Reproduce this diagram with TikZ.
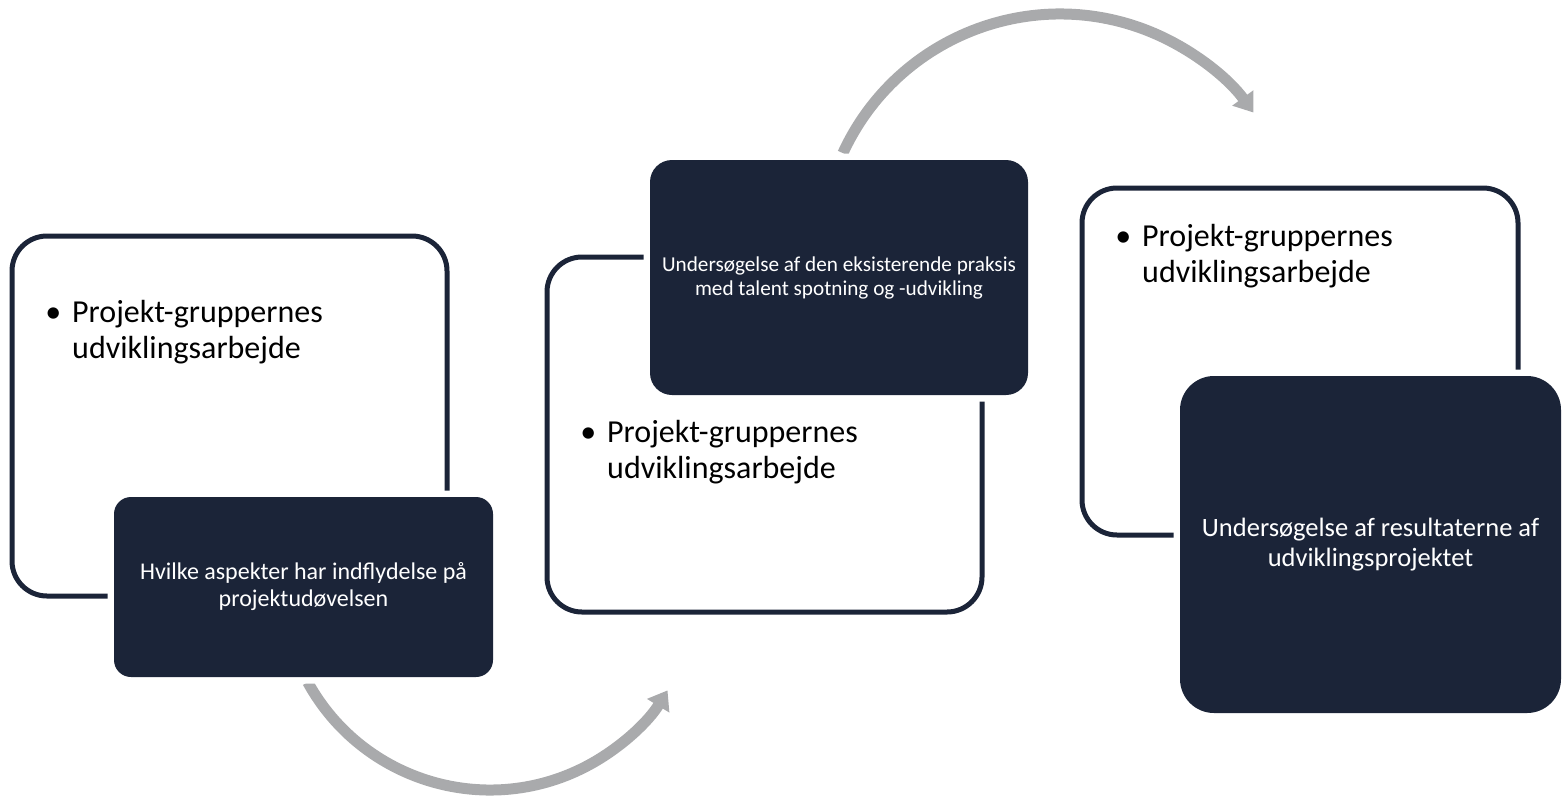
\documentclass[tikz,border=0pt]{standalone}
\usepackage{fontspec}
\setmainfont{Carlito}
\usepackage{tikz}
\usetikzlibrary{arrows.meta}
\definecolor{navy}{RGB}{27,36,56}
\definecolor{loopgray}{RGB}{169,170,172}
\tikzstyle{frame}=[draw=navy,line width=5pt,rounded corners=35pt,inner sep=0pt]
\tikzstyle{darkbox}=[fill=navy,text=white,align=center,inner sep=0pt,preaction={draw=white,line width=13pt}]
\tikzstyle{item}=[anchor=base west,align=left,inner sep=0pt,font=\fontsize{32}{36}\selectfont]
\tikzstyle{loop}=[draw=loopgray,line width=11pt,-{Triangle[length=18pt,width=25pt]}]
\newcommand{\itembullet}{\llap{\textbullet\hspace{11pt}}}

\begin{document}
\begin{tikzpicture}[x=1pt,y=-1pt]
    \useasboundingbox (0,0) rectangle (1562,798);
    \node[frame,minimum width=435pt,minimum height=360pt] (Frame1) at (229.5,416) {};
    \node[frame,minimum width=435pt,minimum height=355pt] (Frame2) at (764.5,434.5) {};
    \node[frame,minimum width=436pt,minimum height=347pt] (Frame3) at (1300,361.5) {};
    \coordinate (LoopLow) at (490,582);
    \coordinate (LoopHigh) at (1060,253);
    \draw[loop] (LoopLow) ++(151.2:208) arc[start angle=151.2,end angle=31.4,radius=208];
    \draw[loop] (LoopHigh) ++(204.7:239) arc[start angle=204.7,end angle=324,radius=239];
    \node[darkbox,rounded corners=17pt,minimum width=379pt,minimum height=180pt,
      font=\fontsize{24}{27}\selectfont] (Dark1) at (303.5,587)
      {Hvilke aspekter har indflydelse på\\projektudøvelsen};
    \node[darkbox,rounded corners=22pt,minimum width=378pt,minimum height=235pt,
      font=\fontsize{21.2}{24}\selectfont] (Dark2) at (839,277.5)
      {Undersøgelse af den eksisterende praksis\\med talent spotning og -udvikling};
    \node[darkbox,rounded corners=34pt,minimum width=381pt,minimum height=337pt,
      font=\fontsize{26.5}{29.5}\selectfont] (Dark3) at (1370.5,544.5)
      {Undersøgelse af resultaterne af\\udviklingsprojektet};
    \node[item] (Item1) at (72,358) {\itembullet Projekt-gruppernes\\udviklingsarbejde};
    \node[item] (Item2) at (607,478) {\itembullet Projekt-gruppernes\\udviklingsarbejde};
    \node[item] (Item3) at (1142,282) {\itembullet Projekt-gruppernes\\udviklingsarbejde};
  \end{tikzpicture}
\end{document}
